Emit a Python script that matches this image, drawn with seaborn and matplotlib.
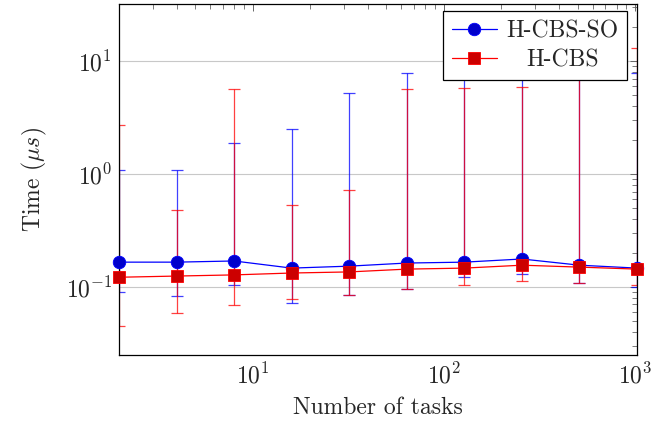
import numpy as np
import pandas as pd
import matplotlib
matplotlib.use("Agg")
import matplotlib.pyplot as plt
import seaborn as sns

tasks = [2, 4, 8, 16, 32, 64, 128, 256, 512, 1024]

so_mean = [0.166, 0.166, 0.170, 0.147, 0.153, 0.163, 0.166, 0.177, 0.156, 0.147]
so_low = [0.090, 0.083, 0.104, 0.072, 0.085, 0.096, 0.122, 0.130, 0.108, 0.100]
so_high = [1.08, 1.08, 1.88, 2.5, 5.2, 7.8, 10.0, 12.0, 10.0, 7.8]

cbs_mean = [0.122, 0.125, 0.128, 0.133, 0.136, 0.144, 0.147, 0.156, 0.150, 0.144]
cbs_low = [0.045, 0.059, 0.069, 0.078, 0.085, 0.096, 0.104, 0.113, 0.108, 0.104]
cbs_high = [2.7, 0.48, 5.65, 0.53, 0.72, 5.65, 5.75, 5.9, 9.0, 13.0]

sns.set_style("white")
plt.rcParams['font.family'] = ['cmr10', 'DejaVu Serif']
plt.rcParams['mathtext.fontset'] = 'cm'
plt.rcParams['axes.formatter.use_mathtext'] = True
plt.rcParams['axes.unicode_minus'] = False

df = pd.DataFrame({
    'tasks': tasks * 2,
    'time': so_mean + cbs_mean,
    'method': ['H-CBS-SO'] * len(tasks) + ['H-CBS'] * len(tasks),
})

fig = plt.figure(figsize=(6.72, 4.29), dpi=100)
ax = fig.add_axes([0.177, 0.1725, 0.771, 0.818])

styles = {
    'H-CBS-SO': dict(color='blue', fill='#0000cc', marker='o', ms=9,
                     mean=so_mean, low=so_low, high=so_high),
    'H-CBS': dict(color='red', fill='#cc0000', marker='s', ms=8,
                  mean=cbs_mean, low=cbs_low, high=cbs_high),
}

for name, st in styles.items():
    mean = np.array(st['mean'])
    err = [mean - np.array(st['low']), np.array(st['high']) - mean]
    ax.errorbar(tasks, mean, yerr=err, fmt='none', ecolor=st['color'],
                elinewidth=0.9, capsize=4, capthick=0.9, alpha=0.75, zorder=2)
    sns.lineplot(data=df[df['method'] == name], x='tasks', y='time', ax=ax,
                 color=st['color'], marker=st['marker'], markersize=st['ms'],
                 markerfacecolor=st['fill'], markeredgecolor=st['color'],
                 markeredgewidth=0.6, linewidth=0.9, label=name, zorder=3,
                 clip_on=False)

ax.set_xscale('log')
ax.set_yscale('log')
ax.set_xlim(2, 1024)
ax.set_ylim(0.025, 32)

ax.grid(True, axis='y', which='major', color='#c8c8c8', linewidth=0.8)
ax.grid(False, axis='x')
ax.set_axisbelow(True)

for s in ax.spines.values():
    s.set_color('black')
    s.set_linewidth(0.9)

ax.tick_params(which='both', direction='in', top=True, right=True,
               color='#666666', labelsize=17)
ax.tick_params(which='major', length=5, width=0.7)
ax.tick_params(which='minor', length=3.5, width=0.6)
ax.tick_params(axis='x', pad=6)
ax.tick_params(axis='y', pad=5)

ax.set_xlabel('Number of tasks', fontsize=17, labelpad=6)
ax.set_ylabel(r'Time ($\mu s$)', fontsize=17, labelpad=12)

leg = ax.legend(loc='upper right', bbox_to_anchor=(0.981, 0.98), fontsize=17,
                frameon=True, fancybox=False, framealpha=1, edgecolor='black',
                borderaxespad=0, handlelength=1.9, handletextpad=0.4,
                borderpad=0.38, labelspacing=0.3)
leg.get_frame().set_linewidth(0.9)
leg.set_zorder(10)

# centre the legend labels like pgfplots does
fig.canvas.draw()
rend = fig.canvas.get_renderer()
texts = leg.get_texts()
widths = [t.get_window_extent(rend).width for t in texts]
for t, w in zip(texts, widths):
    t.set_x((max(widths) - w) / 2)

fig.savefig('out.png', dpi=100)
